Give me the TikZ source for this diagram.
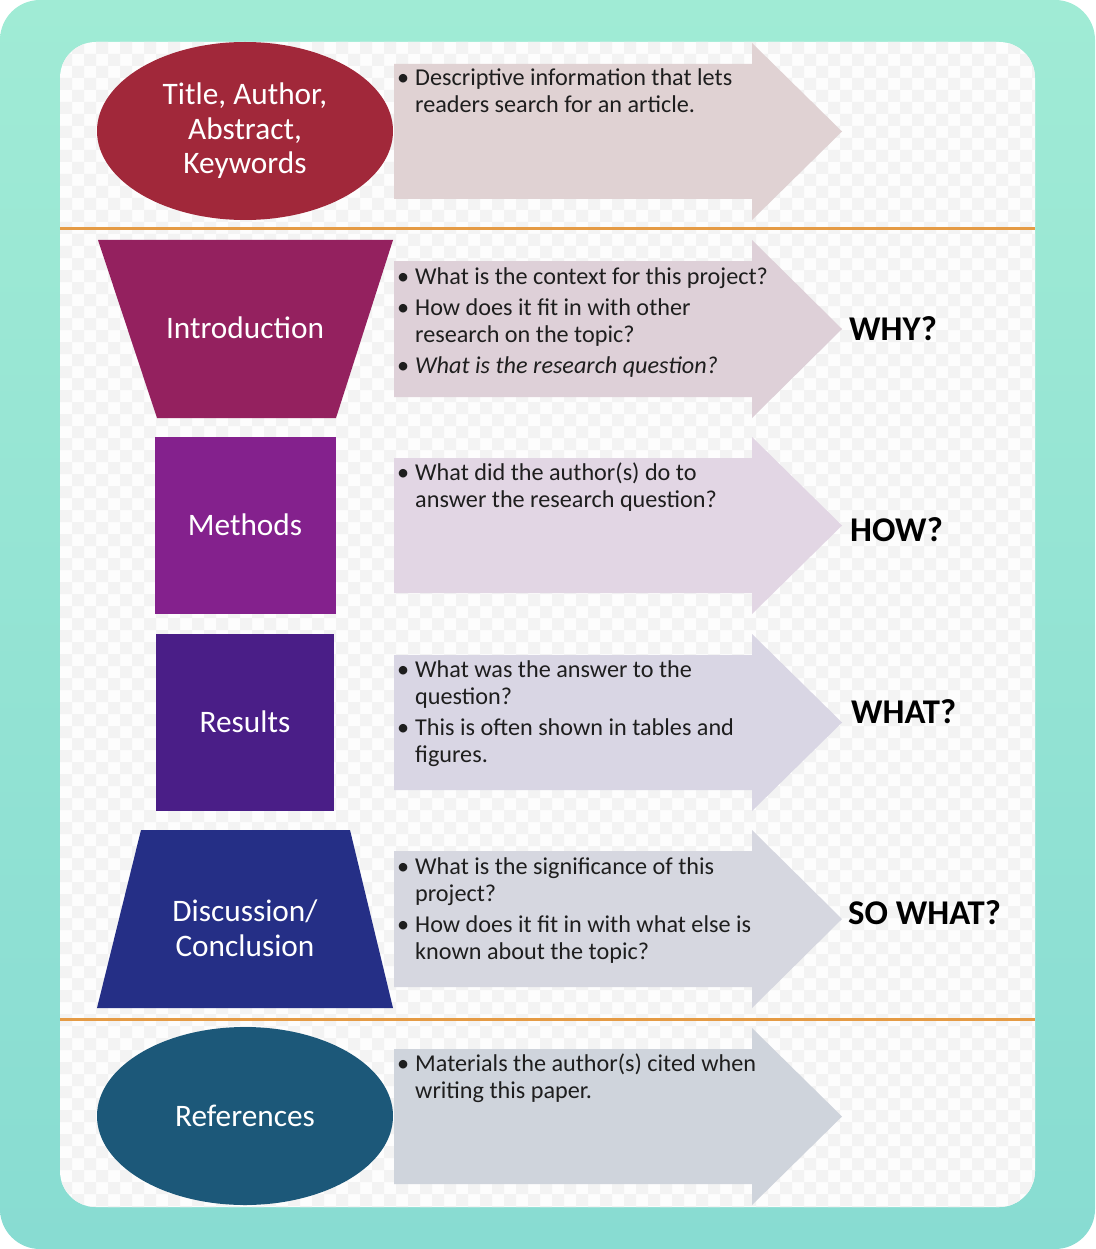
\documentclass[tikz,border=0pt]{standalone}
\usepackage{fontspec}
\setmainfont{Carlito}
\usetikzlibrary{shapes.geometric}
\definecolor{tealTop}{HTML}{A0EBD5}
\definecolor{tealBot}{HTML}{88DCD2}
\definecolor{inner}{HTML}{FDFDFD}
\definecolor{chk}{HTML}{F3F3F3}
\definecolor{sepline}{HTML}{E59B45}
\definecolor{cTitle}{HTML}{A1283A}
\definecolor{cIntro}{HTML}{94215F}
\definecolor{cMeth}{HTML}{84218D}
\definecolor{cRes}{HTML}{4A1E87}
\definecolor{cDisc}{HTML}{252F86}
\definecolor{cRef}{HTML}{1C5879}
\definecolor{aA}{HTML}{E0D2D3}
\definecolor{aB}{HTML}{DED0D8}
\definecolor{aC}{HTML}{E2D6E4}
\definecolor{aD}{HTML}{D9D6E4}
\definecolor{aE}{HTML}{D6D7E0}
\definecolor{aF}{HTML}{CFD4DC}
\definecolor{bodytext}{HTML}{1E1E1E}
\newcommand{\bl}[1]{\makebox[19pt][l]{\hspace{1pt}•}#1}
\newcommand{\cl}[1]{\hspace*{19pt}#1}
\newcommand{\arrowshape}[3]{% color, top y of head, bottom y of head
  \pgfmathsetmacro{\mid}{(#2+#3)/2}
  \pgfmathsetmacro{\rt}{#2+21}
  \pgfmathsetmacro{\rb}{#3-21}
  \fill[#1] (394,\rt) -- (752,\rt) -- (752,#2) -- (842,\mid) -- (752,#3) -- (752,\rb) -- (394,\rb) -- cycle;}
\tikzset{
  body/.style={anchor=base west, inner sep=0pt, font=\fontsize{24.2}{28}\selectfont, text=bodytext},
  label/.style={anchor=center, inner sep=0pt, align=center, text=white, font=\fontsize{31.3}{34.5}\selectfont},
  side/.style={anchor=base west, inner sep=0pt, font=\fontsize{34.7}{40}\selectfont\bfseries, text=black},
}
\begin{document}
\begin{tikzpicture}[x=1pt,y=-1pt]
\useasboundingbox (0,0) rectangle (1095,1249);
\shade[top color=tealTop, bottom color=tealBot, rounded corners=40pt] (0,0) rectangle (1095,1249);
\fill[inner, rounded corners=36pt] (60,42) rectangle (1035,1207);
\begin{scope}
\clip[rounded corners=36pt] (60,42) rectangle (1035,1207);
\fill[chk] \foreach \i in {0,...,81} { \foreach \j in {0,...,97} {
  \ifodd\numexpr\i+\j\relax (60+12*\i,42+12*\j) rectangle ++(12,12) \fi } };
\end{scope}
\draw[sepline, line width=3pt] (60,229) -- (1035,229);
\draw[sepline, line width=3pt] (60,1019) -- (1035,1019);

% arrows
\arrowshape{aA}{43}{220}
\arrowshape{aB}{240}{418}
\arrowshape{aC}{437}{614}
\arrowshape{aD}{634}{811}
\arrowshape{aE}{830}{1008}
\arrowshape{aF}{1028}{1205}

% left shapes
\fill[cTitle] (245,131) ellipse [x radius=148, y radius=89];
\fill[cIntro] (98,240) -- (393,240) -- (336,418) -- (157,418) -- cycle;
\fill[cMeth] (155,437) rectangle (336,614);
\fill[cRes] (156,634) rectangle (334,811);
\fill[cDisc] (141,830) -- (350,830) -- (393,1008) -- (97,1008) -- cycle;
\fill[cRef] (245,1116) ellipse [x radius=148, y radius=89];

\node[label] (lTitle) at (245,131) {Title, Author,\\Abstract,\\Keywords};
\node[label] (lIntro) at (245,328) {Introduction};
\node[label] (lMeth) at (245,525) {Methods};
\node[label] (lRes) at (245,722) {Results};
\node[label] (lDisc) at (245,928) {Discussion/\\Conclusion};
\node[label] (lRef) at (245,1116) {References};

% body texts
\node[body] (t1a) at (396,86) {\bl{Descriptive information that lets}};
\node[body] (t1b) at (396,113) {\cl{readers search for an article.}};

\node[body] (t2a) at (396,284) {\bl{What is the context for this project?}};
\node[body] (t2b) at (396,315) {\bl{How does it fit in with other}};
\node[body] (t2c) at (396,342) {\cl{research on the topic?}};
\node[body] (t2d) at (396,373) {\bl{\itshape What is the research question?}};

\node[body] (t3a) at (396,480) {\bl{What did the author(s) do to}};
\node[body] (t3b) at (396,507) {\cl{answer the research question?}};

\node[body] (t4a) at (396,677) {\bl{What was the answer to the}};
\node[body] (t4b) at (396,704) {\cl{question?}};
\node[body] (t4c) at (396,735) {\bl{This is often shown in tables and}};
\node[body] (t4d) at (396,762) {\cl{figures.}};

\node[body] (t5a) at (396,874) {\bl{What is the significance of this}};
\node[body] (t5b) at (396,901) {\cl{project?}};
\node[body] (t5c) at (396,932) {\bl{How does it fit in with what else is}};
\node[body] (t5d) at (396,959) {\cl{known about the topic?}};

\node[body] (t6a) at (396,1071) {\bl{Materials the author(s) cited when}};
\node[body] (t6b) at (396,1098) {\cl{writing this paper.}};

% side labels
\node[side] (sWhy) at (849,340) {WHY?};
\node[side] (sHow) at (850,541) {HOW?};
\node[side] (sWhat) at (851,723) {WHAT?};
\node[side] (sSo) at (848,924) {SO WHAT?};
\end{tikzpicture}
\end{document}
